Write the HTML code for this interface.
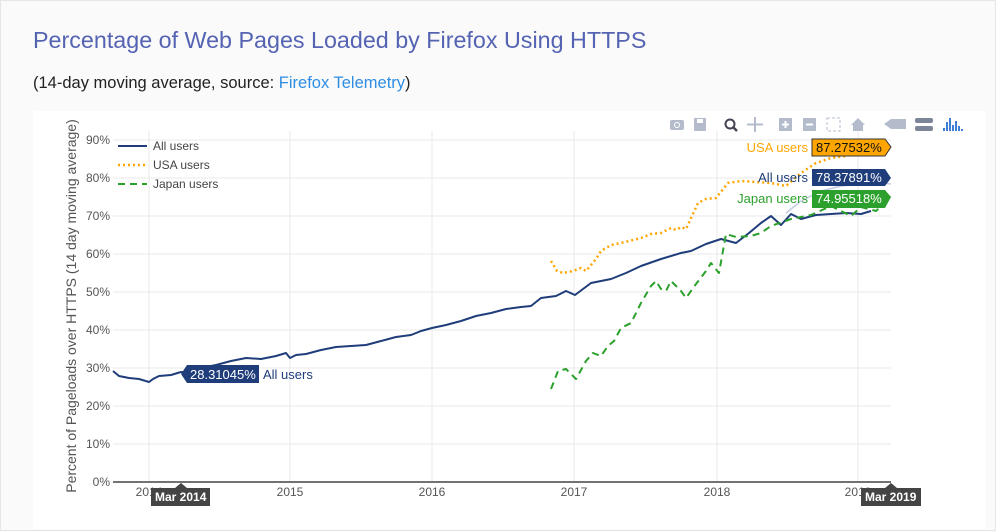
<!DOCTYPE html>
<html><head><meta charset="utf-8"><style>
html,body{margin:0;padding:0;}
body{width:996px;height:531px;background:#fafafa;position:relative;overflow:hidden;font-family:"Liberation Sans","DejaVu Sans",sans-serif;box-sizing:border-box;border:1px solid #e6e6e6;}
.t{position:absolute;left:32px;top:26px;font-size:23.3px;color:#5563b3;white-space:nowrap;}
.s{position:absolute;left:32px;top:73px;font-size:16.5px;color:#222;white-space:nowrap;}
.s a{color:#2f8de4;text-decoration:none;}
.card{position:absolute;left:32px;top:110px;width:953px;height:418px;background:#fff;}
svg{position:absolute;left:0;top:0;}
</style></head><body>
<div class="t">Percentage of Web Pages Loaded by Firefox Using HTTPS</div>
<div class="s">(14-day moving average, source: <a>Firefox Telemetry</a>)</div>
<div class="card"></div>
<svg width="996" height="531" viewBox="0 0 996 531" font-family="Liberation Sans, DejaVu Sans, sans-serif">
<g stroke="#eaeaea" stroke-width="1">
<line x1="112" x2="890" y1="443" y2="443"/><line x1="112" x2="890" y1="405" y2="405"/>
<line x1="112" x2="890" y1="367" y2="367"/><line x1="112" x2="890" y1="329" y2="329"/>
<line x1="112" x2="890" y1="291" y2="291"/><line x1="112" x2="890" y1="253" y2="253"/>
<line x1="112" x2="890" y1="215" y2="215"/><line x1="112" x2="890" y1="177" y2="177"/>
<line x1="112" x2="890" y1="139" y2="139"/>
<line x1="148" x2="148" y1="130" y2="481"/><line x1="289" x2="289" y1="130" y2="481"/>
<line x1="431" x2="431" y1="130" y2="481"/><line x1="573" x2="573" y1="130" y2="481"/>
<line x1="716" x2="716" y1="130" y2="481"/><line x1="857" x2="857" y1="130" y2="481"/>
</g>
<line x1="112" x2="890" y1="481" y2="481" stroke="#444" stroke-width="1.5"/>
<g font-size="12" fill="#555" text-anchor="end">
<text x="109" y="485">0%</text><text x="109" y="447">10%</text><text x="109" y="409">20%</text>
<text x="109" y="371">30%</text><text x="109" y="333">40%</text><text x="109" y="295">50%</text>
<text x="109" y="257">60%</text><text x="109" y="219">70%</text><text x="109" y="181">80%</text>
<text x="109" y="143">90%</text>
</g>
<g font-size="12" fill="#555" text-anchor="middle">
<text x="148" y="495">2014</text><text x="289" y="495">2015</text><text x="431" y="495">2016</text>
<text x="573" y="495">2017</text><text x="716" y="495">2018</text><text x="857" y="495">2019</text>
</g>
<text transform="translate(75,305) rotate(-90)" font-size="14" fill="#555" text-anchor="middle">Percent of Pageloads over HTTPS (14 day moving average)</text>
<g fill="none" stroke-linejoin="round">
<polyline stroke="#1f3d7a" stroke-width="2" points="112,370 118,375 128,377 138,378 148,381 152,378 158,375 170,374 180,371 190,372 200,367 215,364 230,360 245,357 260,358 275,355 285,352 289,357 295,354 305,353 320,349 335,346 350,345 365,344 380,340 395,336 410,334 420,330 431,327 445,324 460,320 475,315 490,312 505,308 520,306 530,305 540,297 555,295 565,290 574,294 590,282 610,278 625,272 640,265 660,258 680,252 690,250 705,243 720,238 735,242 748,232 760,222 770,215 780,224 790,213 800,218 815,214 830,213 845,212 860,213 870,210"/>
<polyline stroke="#bfcbe3" stroke-width="1.5" points="785,212 800,200 820,190 840,185 860,183 875,181 890,183"/>
<polyline stroke="#ffa500" stroke-width="2.5" stroke-dasharray="2,3" points="550,260 556,270 562,272 572,270 580,267 585,270 595,258 600,250 610,244 620,242 640,237 650,233 660,232 670,227 675,229 680,226 685,228 697,202 705,198 715,197 727,182 740,180 755,181 770,182 785,185 800,172 815,162 830,157 845,155 860,152 875,150 890,148"/>
<polyline stroke="#2ca02c" stroke-width="2" stroke-dasharray="7,5" points="550,388 557,370 565,368 575,378 585,360 592,352 600,355 607,345 613,340 620,327 630,322 640,302 650,285 655,280 660,288 665,290 670,280 675,285 680,290 685,297 695,283 705,270 710,262 718,272 725,233 735,236 750,235 760,232 770,225 790,218 810,214 830,205 840,210 850,215 860,206 875,210 890,196"/>
</g>
<g font-size="12" fill="#444">
<line x1="117" x2="146" y1="145" y2="145" stroke="#1f3d7a" stroke-width="2"/><text x="152" y="149">All users</text>
<line x1="117" x2="146" y1="164" y2="164" stroke="#ffa500" stroke-width="2.5" stroke-dasharray="2,3"/><text x="152" y="168">USA users</text>
<line x1="117" x2="146" y1="183" y2="183" stroke="#2ca02c" stroke-width="2" stroke-dasharray="7,5"/><text x="152" y="187">Japan users</text>
</g>
<g font-size="13">
<polygon points="811,138 884,138 890,146 884,155 811,155" fill="#ffa500" stroke="#333" stroke-width="1"/>
<text x="815" y="151" fill="#111">87.27532%</text><text x="807" y="151" fill="#ffa500" text-anchor="end">USA users</text>
<polygon points="811,168 884,168 890,177 884,185 811,185" fill="#1f3d7a"/>
<text x="815" y="181" fill="#fff">78.37891%</text><text x="807" y="181" fill="#1f3d7a" text-anchor="end">All users</text>
<polygon points="811,189 884,189 890,196 884,207 811,207" fill="#2ca02c"/>
<text x="815" y="202" fill="#fff">74.95518%</text><text x="807" y="202" fill="#2ca02c" text-anchor="end">Japan users</text>
<polygon points="186,364 191,364 191,382 186,382 180,373" fill="#1f3d7a"/>
<rect x="186" y="364" width="72" height="18" fill="#1f3d7a"/>
<text x="189" y="378" fill="#fff">28.31045%</text><text x="262" y="378" fill="#1f3d7a">All users</text>
</g>
<g font-size="12" font-weight="bold" fill="#fff">
<polygon points="180,482 186,487 209,487 209,505 150,505 150,487 174,487" fill="#444"/>
<text x="154" y="500">Mar 2014</text>
<polygon points="890,482 896,487 920,487 920,505 860,505 860,487 884,487" fill="#444"/>
<text x="864" y="500">Mar 2019</text>
</g>
<g fill="#b4bccc">
<rect x="669" y="119" width="14" height="10" rx="2"/><circle cx="676" cy="124" r="3" fill="#fff"/><circle cx="676" cy="124" r="2"/>
<rect x="693" y="117" width="12" height="13" rx="1"/><rect x="696" y="118" width="6" height="4" fill="#fff"/>
<circle cx="729" cy="123" r="4.5" fill="none" stroke="#445" stroke-width="2"/><line x1="732" y1="126" x2="736" y2="130" stroke="#445" stroke-width="2.5"/>
<path d="M754 116 L754 131 M746 123.5 L762 123.5" stroke="#b4bccc" stroke-width="2"/>
<rect x="778" y="117" width="13" height="13"/><path d="M781 123.5h7M784.5 120v7" stroke="#fff" stroke-width="2"/>
<rect x="802" y="117" width="13" height="13"/><path d="M805 123.5h7" stroke="#fff" stroke-width="2"/>
<rect x="826" y="117" width="13" height="13" fill="none" stroke="#b4bccc" stroke-dasharray="3,2"/>
<path d="M850 124 L857 117 L864 124 L862 124 L862 130 L852 130 L852 124Z"/>
<path d="M883 123 L890 118 L905 118 L905 128 L890 128Z"/>
<rect x="914" y="117" width="18" height="5" rx="2" fill="#7d8699"/><rect x="914" y="125" width="18" height="5" rx="2" fill="#7d8699"/>
<g fill="#3f7fd6"><rect x="942" y="127" width="2" height="3"/><rect x="945" y="121" width="2" height="9"/><rect x="948" y="117" width="2" height="13"/><rect x="951" y="124" width="2" height="6"/><rect x="954" y="120" width="2" height="10"/><rect x="957" y="125" width="2" height="5"/><rect x="960" y="128" width="2" height="2"/></g>
</g>
</svg>
</body></html>
